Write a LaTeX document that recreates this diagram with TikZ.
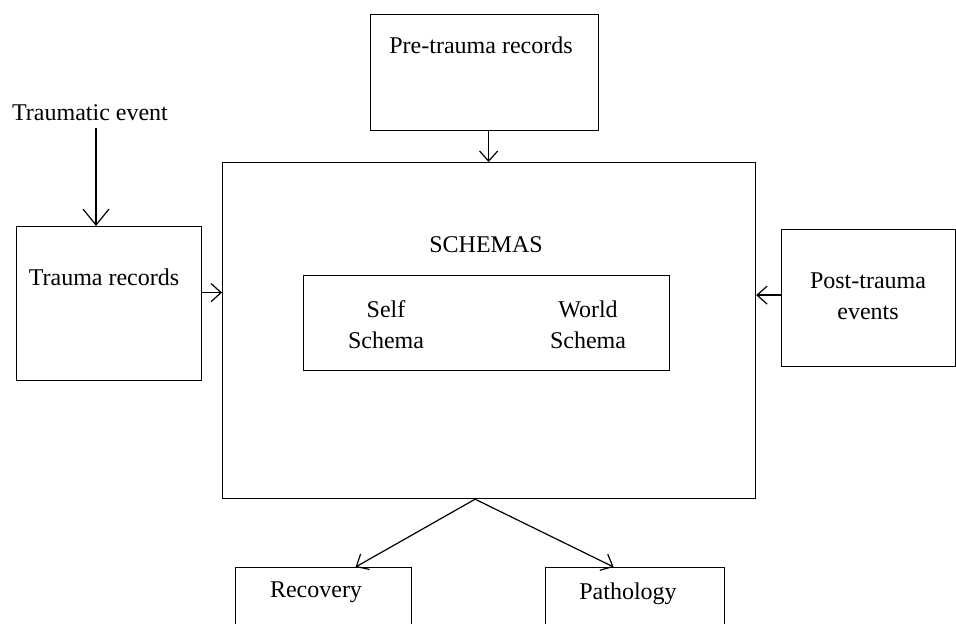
\documentclass[tikz,border=0pt]{standalone}
\usepackage{fontspec}
\setmainfont{Liberation Serif}
\usepackage{tikz}
\usetikzlibrary{positioning, arrows.meta}

\begin{document}
\begin{tikzpicture}[x=0.5pt, y=-0.5pt, line width=0.6pt,
        box/.style={draw, anchor=north west, inner sep=0pt},
        lbl/.style={inner sep=0pt, align=center, font=\fontsize{12}{15.5}\selectfont},
        >={Straight Barb[length=5pt, width=9pt]}]
    \useasboundingbox (0,0) rectangle (956,624);
    \clip (0,0) rectangle (956,624);

    \node[box, minimum width=114pt, minimum height=58pt] (pre) at (370,14) {};
    \node[box, minimum width=266.5pt, minimum height=168pt] (schemas) at (222,162) {};
    \node[box, minimum width=183pt, minimum height=47.5pt] (inner) at (303,275) {};
    \node[box, minimum width=92.5pt, minimum height=77pt] (trauma) at (16,226) {};
    \node[box, minimum width=87pt, minimum height=68.5pt] (post) at (781,229) {};
    \node[box, minimum width=88pt, minimum height=50pt] (recovery) at (235,567) {};
    \node[box, minimum width=89.5pt, minimum height=50pt] (pathology) at (545,567) {};

    \node[lbl] (pretxt) at (481,45) {Pre-trauma records};
    \node[lbl] (event) at (90,113) {Traumatic event};
    \node[lbl] (tratxt) at (104,277) {Trauma records};
    \node[lbl] (schtxt) at (486,245) {SCHEMAS};
    \node[lbl] (self) at (386,325) {Self\\Schema};
    \node[lbl] (world) at (588,325) {World\\Schema};
    \node[lbl] (posttxt) at (868,296) {Post-trauma\\events};
    \node[lbl] (rectxt) at (316,592) {Recovery};
    \node[lbl] (pathtxt) at (628,594) {Pathology};

    \draw [->, >={Straight Barb[length=8pt, width=13pt]}]
        ([xshift=3pt, yshift=-3pt]event.south) -- ([xshift=3pt]event.south |- trauma.north);
    \draw [->] ([xshift=2pt]pre.south) -- ([xshift=2pt]pre.south |- schemas.north);
    \draw [->] ([yshift=5.5pt]trauma.east) -- ([yshift=5.5pt]trauma.east -| schemas.west);
    \draw [->] ([yshift=1.5pt]post.west) -- ([yshift=1.5pt]post.west -| schemas.east);
    \draw [->] ([xshift=-7pt]schemas.south) -- ([xshift=16pt]recovery.north);
    \draw [->] ([xshift=-7pt]schemas.south) -- ([xshift=-10.75pt]pathology.north);
\end{tikzpicture}
\end{document}
